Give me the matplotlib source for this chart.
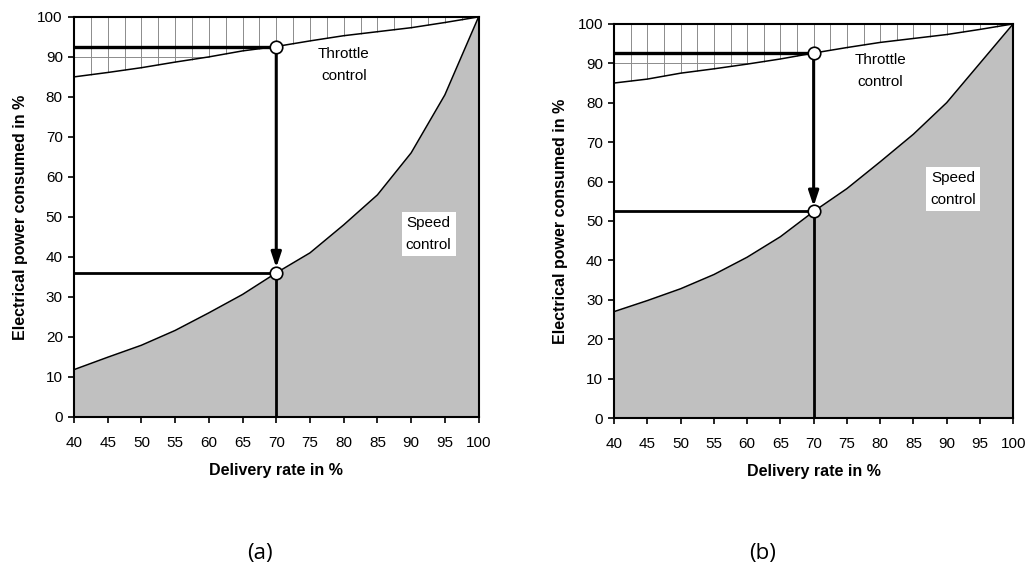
import numpy as np
import matplotlib
matplotlib.use('Agg')
import matplotlib.pyplot as plt

plt.rcParams['font.family'] = ['Liberation Sans', 'DejaVu Sans']

# data
rate = [40, 45, 50, 55, 60, 65, 70, 75, 80, 85, 90, 95, 100]
throttleA = [85, 86.1, 87.3, 88.7, 90.0, 91.5, 92.6, 94.0, 95.3, 96.3, 97.3, 98.6, 100]
speedA = [11.8, 14.9, 17.9, 21.6, 26.0, 30.6, 36.0, 41.0, 48.0, 55.5, 66.0, 80.5, 100]
throttleB = [85, 86.0, 87.5, 88.6, 89.8, 91.1, 92.6, 94.0, 95.3, 96.3, 97.3, 98.6, 100]
speedB = [27.0, 29.8, 32.8, 36.4, 40.8, 46.0, 52.4, 58.2, 65.0, 72.0, 80.0, 90.0, 100]
opRate = 70
opThrottle = [92.6, 92.6]
opSpeed = [36.0, 52.4]
captions = ['(a)', '(b)']

fig = plt.figure(figsize=(10.27, 5.83), dpi=100)
axes = [fig.add_axes([0.072, 0.285, 0.394, 0.686]),
        fig.add_axes([0.598, 0.283, 0.3885, 0.676])]

for i, ax in enumerate(axes):
  thr = [throttleA, throttleB][i]
  spd = [speedA, speedB][i]
  ax.set_xlim(40, 100)
  ax.set_ylim(0, 100)

  # shaded speed control area
  ax.fill_between(rate, 0, spd, color='#c0c0c0', lw=0, zorder=1)
  ax.plot(rate, spd, color='black', lw=1.1, zorder=3)

  # hatched throttle area (vertical lines every 2.5 %)
  hx = np.arange(42.5, 100, 2.5)
  ax.vlines(hx, np.interp(hx, rate, thr), 100, color='#8c8c8c', lw=0.7, zorder=2)
  x90 = np.interp(90, thr, rate)
  ax.hlines(90, 40, x90, color='#8c8c8c', lw=0.7, zorder=2)
  ax.plot(rate, thr, color='black', lw=1.1, zorder=3)

  # operating point lines
  ts = opThrottle[i]
  ss = opSpeed[i]
  ax.plot([40, opRate], [ts, ts], color='black', lw=2.4, zorder=4)
  ax.plot([40, opRate], [ss, ss], color='black', lw=2.0, zorder=4)
  ax.plot([opRate, opRate], [0, ss], color='black', lw=2.0, zorder=4)
  ax.annotate('', xy=(opRate, ss + 1.3), xytext=(opRate, ts),
              arrowprops=dict(arrowstyle='-|>,head_length=0.9,head_width=0.3',
                              color='black', lw=2.2, shrinkA=0, shrinkB=0),
              zorder=5)
  ax.plot([opRate, opRate], [ts, ss], 'o', ms=9, mfc='white', mec='black',
          mew=1.2, zorder=6, clip_on=False)

  ax.text(80, 88, 'Throttle\ncontrol', ha='center', va='center', fontsize=11,
          linespacing=1.75, zorder=6)
  sx, sy = [(92.6, 45.8), (91.0, 58.1)][i]
  ax.text(sx, sy, 'Speed\ncontrol', ha='center', va='center', fontsize=11,
          linespacing=1.7, zorder=6,
          bbox=dict(facecolor='white', edgecolor='none', pad=3))

  ax.set_xticks(range(40, 101, 5))
  ax.set_yticks(range(0, 101, 10))
  ax.tick_params(labelsize=11, direction='out', length=4, width=1.2, colors='black')
  ax.tick_params(axis='x', pad=10)
  ax.tick_params(axis='y', pad=4)
  for s in ax.spines.values():
    s.set_linewidth(1.5)
    s.set_zorder(7)
  ax.set_xlabel('Delivery rate in %', fontsize=11.5, fontweight='bold', labelpad=9)
  ax.set_ylabel('Electrical power consumed in %', fontsize=11.5, fontweight='bold', labelpad=7)

fig.text(0.253, 0.05, captions[0], ha='center', va='center', fontsize=16, family='Open Sans')
fig.text(0.743, 0.05, captions[1], ha='center', va='center', fontsize=16, family='Open Sans')

fig.savefig('out.png', dpi=100)
